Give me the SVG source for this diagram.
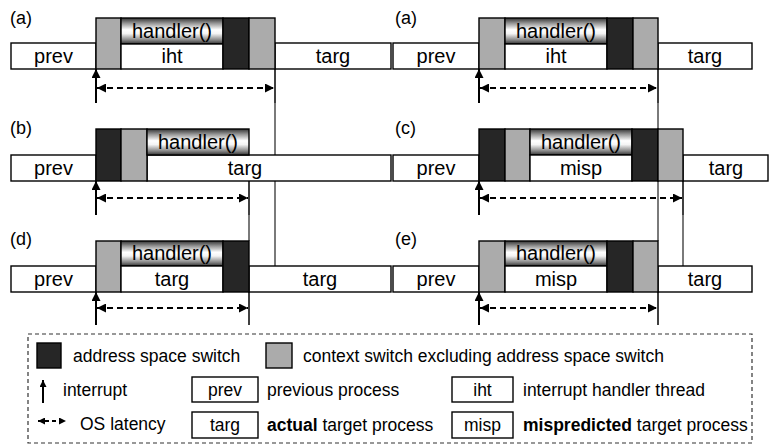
<svg xmlns="http://www.w3.org/2000/svg" width="769" height="445" viewBox="0 0 769 445">
<defs>
<linearGradient id="hg" x1="0" y1="0" x2="0" y2="1">
<stop offset="0" stop-color="#333333"/>
<stop offset="0.2" stop-color="#949494"/>
<stop offset="0.45" stop-color="#ffffff"/>
<stop offset="0.6" stop-color="#f4f4f4"/>
<stop offset="0.85" stop-color="#858585"/>
<stop offset="1" stop-color="#333333"/>
</linearGradient>
<marker id="ah" viewBox="0 0 10 10" refX="10" refY="5" markerUnits="userSpaceOnUse" markerWidth="10" markerHeight="9" orient="auto-start-reverse">
<path d="M0,0 L10,5 L0,10 z" fill="#000"/>
</marker>
<marker id="ahs" viewBox="0 0 10 10" refX="10" refY="5" markerUnits="userSpaceOnUse" markerWidth="8" markerHeight="7" orient="auto-start-reverse">
<path d="M0,0 L10,5 L0,10 z" fill="#000"/>
</marker>
</defs>
<style>
text{font-family:"Liberation Sans",Arial,Helvetica,sans-serif;fill:#000}
.t{font-size:20px;text-anchor:middle}
.lbl{font-size:18px}
.lg{font-size:17.5px}
.lgc{font-size:17.5px;text-anchor:middle}
.bar{fill:#fff;stroke:#000;stroke-width:1.4}
.blk{fill:#262626;stroke:#000;stroke-width:1.4}
.gry{fill:#ababab;stroke:#000;stroke-width:1.4}
.hd{fill:url(#hg);stroke:#000;stroke-width:1.4}
.irq{stroke:#000;stroke-width:2;marker-end:url(#ah)}
.lat{stroke:#000;stroke-width:2;stroke-dasharray:6,4;marker-start:url(#ah);marker-end:url(#ah)}
.v{stroke:#000;stroke-width:1.5}
.g{stroke:#7a7a7a;stroke-width:2}
.leg{fill:none;stroke:#333;stroke-width:1.2;stroke-dasharray:4,3}
</style>
<rect width="769" height="445" fill="#fff"/>

<g id="connectors">
<line class="g" x1="275" y1="103" x2="275" y2="266"/>
<line class="g" x1="249" y1="215" x2="249" y2="241"/>
<line class="g" x1="658" y1="103" x2="658" y2="241"/>
<line class="g" x1="683" y1="215" x2="683" y2="266"/>
</g>

<g id="panel-a-left">
<text class="lbl" x="10" y="24">(a)</text>
<rect class="bar" x="11" y="43" width="85" height="26"/>
<rect class="bar" x="275" y="43" width="116" height="26"/>
<rect class="gry" x="96" y="18" width="25" height="51"/>
<rect class="hd" x="121" y="18" width="102" height="26"/>
<rect class="bar" x="121" y="44" width="102" height="25"/>
<rect class="blk" x="223" y="18" width="26" height="51"/>
<rect class="gry" x="249" y="18" width="26" height="51"/>
<text class="t" x="53.5" y="63">prev</text>
<text class="t" x="172" y="38">handler()</text>
<text class="t" x="172" y="63">iht</text>
<text class="t" x="333" y="63">targ</text>
<line class="irq" x1="96" y1="103" x2="96" y2="69"/>
<line class="lat" x1="97" y1="88" x2="274" y2="88"/>
<line class="v" x1="275" y1="69" x2="275" y2="103"/>
</g>

<g id="panel-a-right">
<text class="lbl" x="395" y="24">(a)</text>
<rect class="bar" x="393" y="43" width="86" height="26"/>
<rect class="bar" x="658" y="43" width="94" height="26"/>
<rect class="gry" x="479" y="18" width="26" height="51"/>
<rect class="hd" x="505" y="18" width="102" height="26"/>
<rect class="bar" x="505" y="44" width="102" height="25"/>
<rect class="blk" x="607" y="18" width="26" height="51"/>
<rect class="gry" x="633" y="18" width="25" height="51"/>
<text class="t" x="436" y="63">prev</text>
<text class="t" x="556" y="38">handler()</text>
<text class="t" x="556" y="63">iht</text>
<text class="t" x="705" y="63">targ</text>
<line class="irq" x1="479" y1="103" x2="479" y2="69"/>
<line class="lat" x1="480" y1="88" x2="657" y2="88"/>
<line class="v" x1="658" y1="69" x2="658" y2="103"/>
</g>

<g id="panel-b">
<text class="lbl" x="10" y="134">(b)</text>
<rect class="bar" x="11" y="155" width="85" height="26"/>
<rect class="bar" x="147" y="155" width="244" height="26"/>
<rect class="blk" x="96" y="129" width="25" height="52"/>
<rect class="gry" x="121" y="129" width="26" height="52"/>
<rect class="hd" x="147" y="129" width="102" height="26"/>
<text class="t" x="53.5" y="175">prev</text>
<text class="t" x="198" y="149">handler()</text>
<text class="t" x="245" y="175">targ</text>
<line class="irq" x1="96" y1="215" x2="96" y2="181"/>
<line class="lat" x1="97" y1="198" x2="248" y2="198"/>
<line class="v" x1="249" y1="181" x2="249" y2="215"/>
</g>

<g id="panel-c">
<text class="lbl" x="395" y="134">(c)</text>
<rect class="bar" x="393" y="155" width="86" height="26"/>
<rect class="bar" x="683" y="155" width="85" height="26"/>
<rect class="blk" x="479" y="129" width="26" height="52"/>
<rect class="gry" x="505" y="129" width="25" height="52"/>
<rect class="hd" x="530" y="129" width="102" height="26"/>
<rect class="bar" x="530" y="155" width="102" height="26"/>
<rect class="blk" x="632" y="129" width="26" height="52"/>
<rect class="gry" x="658" y="129" width="25" height="52"/>
<text class="t" x="436" y="175">prev</text>
<text class="t" x="581" y="149">handler()</text>
<text class="t" x="581" y="175">misp</text>
<text class="t" x="726" y="175">targ</text>
<line class="irq" x1="479" y1="215" x2="479" y2="181"/>
<line class="lat" x1="480" y1="198" x2="682" y2="198"/>
<line class="v" x1="683" y1="181" x2="683" y2="215"/>
</g>

<g id="panel-d">
<text class="lbl" x="10" y="245">(d)</text>
<rect class="bar" x="11" y="266" width="85" height="26"/>
<rect class="bar" x="249" y="266" width="142" height="26"/>
<rect class="gry" x="96" y="241" width="25" height="51"/>
<rect class="hd" x="121" y="241" width="102" height="25"/>
<rect class="bar" x="121" y="266" width="102" height="26"/>
<rect class="blk" x="223" y="241" width="26" height="51"/>
<text class="t" x="53.5" y="286">prev</text>
<text class="t" x="172" y="260">handler()</text>
<text class="t" x="172" y="286">targ</text>
<text class="t" x="320" y="286">targ</text>
<line class="irq" x1="96" y1="325" x2="96" y2="292"/>
<line class="lat" x1="97" y1="308" x2="248" y2="308"/>
<line class="v" x1="249" y1="292" x2="249" y2="325"/>
</g>

<g id="panel-e">
<text class="lbl" x="395" y="245">(e)</text>
<rect class="bar" x="393" y="266" width="86" height="26"/>
<rect class="bar" x="658" y="266" width="94" height="26"/>
<rect class="gry" x="479" y="241" width="26" height="51"/>
<rect class="hd" x="505" y="241" width="102" height="25"/>
<rect class="bar" x="505" y="266" width="102" height="26"/>
<rect class="blk" x="607" y="241" width="26" height="51"/>
<rect class="gry" x="633" y="241" width="25" height="51"/>
<text class="t" x="436" y="286">prev</text>
<text class="t" x="556" y="260">handler()</text>
<text class="t" x="556" y="286">misp</text>
<text class="t" x="705" y="286">targ</text>
<line class="irq" x1="479" y1="325" x2="479" y2="292"/>
<line class="lat" x1="480" y1="308" x2="657" y2="308"/>
<line class="v" x1="658" y1="292" x2="658" y2="325"/>
</g>

<g id="legend">
<rect class="leg" x="28" y="334" width="724" height="109"/>
<rect class="blk" x="37" y="343" width="24" height="25"/>
<text class="lg" x="73" y="362">address space switch</text>
<rect class="gry" x="266" y="343" width="26" height="25"/>
<text class="lg" x="303" y="362">context switch excluding address space switch</text>
<line x1="43" y1="403" x2="43" y2="380" stroke="#000" stroke-width="2" marker-end="url(#ahs)"/>
<text class="lg" x="63" y="396">interrupt</text>
<rect class="bar" x="192" y="377" width="66" height="25"/>
<text class="lgc" x="225" y="396">prev</text>
<text class="lg" x="267" y="396">previous process</text>
<rect class="bar" x="452" y="377" width="61" height="25"/>
<text class="lgc" x="482.5" y="396">iht</text>
<text class="lg" x="523" y="396">interrupt handler thread</text>
<line x1="38" y1="421" x2="66" y2="421" stroke="#000" stroke-width="2" stroke-dasharray="4,3" marker-start="url(#ahs)" marker-end="url(#ahs)"/>
<text class="lg" x="80" y="430">OS latency</text>
<rect class="bar" x="192" y="412" width="66" height="26"/>
<text class="lgc" x="225" y="431">targ</text>
<text class="lg" x="267" y="431"><tspan font-weight="bold">actual</tspan> target process</text>
<rect class="bar" x="452" y="412" width="61" height="26"/>
<text class="lgc" x="482.5" y="431">misp</text>
<text class="lg" x="523" y="431"><tspan font-weight="bold">mispredicted</tspan> target process</text>
</g>
</svg>
